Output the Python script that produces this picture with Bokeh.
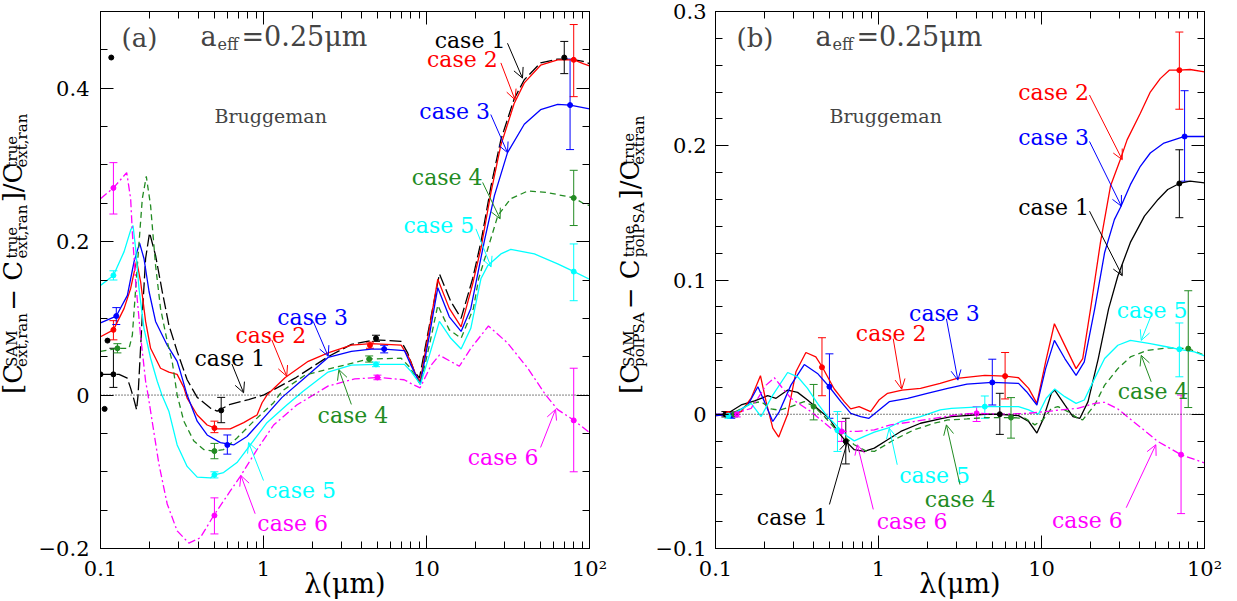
import math
from bokeh.plotting import figure
from bokeh.models import (FixedTicker, LogAxis, LinearAxis, Label, Arrow, OpenHead,
                          Whisker, TeeHead, ColumnDataSource, Span, CustomJSTickFormatter)
from bokeh.core.properties import value
from bokeh.layouts import row
from bokeh.embed import file_html
from bokeh.resources import INLINE

FONT = "DejaVu Serif"
BLACK, RED, BLUE, GREEN, CYAN, MAGENTA = "#000000", "#ff0000", "#0000ff", "#228b22", "#00ffff", "#ff00ff"

# ---------------- panel (a) data ----------------
A1_LAM = [0.1, 0.13, 0.146, 0.153, 0.160, 0.1665, 0.170, 0.1722, 0.1805, 0.1891, 0.200, 0.2177, 0.2392,
          0.2626, 0.2953, 0.340, 0.392, 0.472, 0.52, 0.625, 0.81, 1.0, 1.56, 2.49, 3.46, 4.8, 6.99, 7.66,
          8.42, 9.05, 10.42, 12.0, 14.1, 16.3, 19.2, 21.6, 24.9, 28.6, 34.5, 39.8, 50.1, 63.8, 76.8, 91.4, 100]
A1_VAL = [0.027, 0.027, 0.022, 0.009, -0.005, -0.019, 0.0, 0.022, 0.104, 0.178, 0.2115, 0.182, 0.135,
          0.0915, 0.057, 0.02, -0.003, -0.017, -0.021, -0.012, -0.006, 0.0, 0.022, 0.05, 0.066, 0.072, 0.070,
          0.055, 0.031, 0.022, 0.091, 0.158, 0.122, 0.1, 0.152, 0.2, 0.273, 0.333, 0.386, 0.411, 0.433,
          0.438, 0.438, 0.435, 0.432]
A2_LAM = [0.1, 0.12, 0.1396, 0.1531, 0.1665, 0.1762, 0.1891, 0.2029, 0.2335, 0.2626, 0.2953, 0.3244, 0.34,
          0.392, 0.451, 0.519, 0.625, 0.756, 0.913, 0.98, 1.05, 1.36, 1.88, 2.49, 3.46, 4.58, 6.99, 7.84,
          8.62, 9.14, 10.42, 11.73, 13.8, 16.3, 19.2, 21.6, 24.9, 28.6, 34.5, 39.8, 50.1, 63.8, 80.4, 91.4, 100]
A2_VAL = [0.076, 0.085, 0.113, 0.139, 0.175, 0.148, 0.096, 0.061, 0.035, 0.030, 0.027, 0.010, -0.004,
          -0.026, -0.039, -0.044, -0.044, -0.036, -0.026, -0.01, 0.0, 0.023, 0.044, 0.055, 0.065, 0.067,
          0.065, 0.048, 0.026, 0.018, 0.087, 0.151, 0.113, 0.089, 0.145, 0.192, 0.265, 0.326, 0.380, 0.407,
          0.430, 0.437, 0.437, 0.432, 0.429]
A3_LAM = [0.1, 0.125, 0.1462, 0.1606, 0.1737, 0.1848, 0.1985, 0.2177, 0.2566, 0.2953, 0.3093, 0.34, 0.392,
          0.451, 0.5435, 0.656, 0.792, 1.0, 1.3, 1.78, 2.49, 3.46, 4.58, 5.5, 7.32, 8.03, 9.14, 10.42, 11.73,
          13.8, 16.3, 18.7, 22.6, 26.1, 31.4, 39.8, 50.1, 63.8, 76.1, 100]
A3_VAL = [0.094, 0.103, 0.13, 0.174, 0.198, 0.178, 0.135, 0.096, 0.065, 0.044, 0.03, 0.0, -0.034, -0.052,
          -0.062, -0.065, -0.054, -0.03, -0.003, 0.022, 0.049, 0.057, 0.06, 0.06, 0.058, 0.039, 0.014, 0.078,
          0.14, 0.102, 0.083, 0.113, 0.2, 0.26, 0.316, 0.353, 0.372, 0.379, 0.378, 0.373]
A4_LAM = [0.1, 0.127, 0.1497, 0.1568, 0.1683, 0.1805, 0.191, 0.2029, 0.2177, 0.2335, 0.2566, 0.2752, 0.2953,
          0.3244, 0.3741, 0.4298, 0.4951, 0.5693, 0.6875, 0.8712, 1.154, 1.296, 1.797, 2.869, 4.37, 6.99,
          7.84, 9.18, 10.42, 11.73, 13.8, 16.3, 19.4, 20.9, 23.8, 27.4, 32.9, 41.8, 55.2, 80.4, 91.4, 100]
A4_VAL = [0.057, 0.061, 0.061, 0.078, 0.169, 0.256, 0.285, 0.247, 0.169, 0.113, 0.07, 0.044, 0.0, -0.034,
          -0.06, -0.071, -0.073, -0.071, -0.056, -0.034, -0.01, 0.005, 0.026, 0.037, 0.047, 0.048, 0.037,
          0.014, 0.065, 0.117, 0.085, 0.074, 0.113, 0.152, 0.191, 0.234, 0.256, 0.266, 0.264, 0.257, 0.250, 0.247]
A5_LAM = [0.1, 0.12, 0.1396, 0.1531, 0.1583, 0.1643, 0.1722, 0.1848, 0.2029, 0.2229, 0.2392, 0.2626, 0.2953,
          0.34, 0.392, 0.472, 0.5, 0.569, 0.6875, 0.83, 1.05, 1.39, 1.75, 2.49, 3.46, 4.9, 7.32, 8.03, 9.18,
          10.42, 12.0, 14.1, 16.3, 18.7, 21.6, 23.8, 28.6, 32.9, 45.9, 63.8, 80.4, 100]
A5_VAL = [0.143, 0.156, 0.187, 0.215, 0.221, 0.191, 0.139, 0.087, 0.048, 0.018, -0.001, -0.021, -0.065,
          -0.093, -0.107, -0.108, -0.104, -0.101, -0.088, -0.065, -0.036, -0.013, 0.005, 0.03, 0.039, 0.04,
          0.04, 0.031, 0.014, 0.052, 0.096, 0.074, 0.06, 0.087, 0.152, 0.169, 0.184, 0.19, 0.184, 0.171,
          0.161, 0.151]
A6_LAM = [0.1, 0.12, 0.1448, 0.1531, 0.157, 0.1643, 0.176, 0.1891, 0.1958, 0.2029, 0.2282, 0.2566, 0.2953,
          0.3481, 0.4094, 0.4951, 0.6254, 0.7207, 0.9128, 1.154, 1.6, 2.5, 3.63, 5.0, 7.29, 8.38, 9.14,
          10.67, 12.0, 15.9, 18.7, 24.0, 31.4, 41.8, 53.9, 63.8, 80.4, 100]
A6_VAL = [0.256, 0.27, 0.29, 0.256, 0.21, 0.148, 0.078, 0.018, 0.0, -0.021, -0.09, -0.142, -0.177, -0.193,
          -0.186, -0.157, -0.125, -0.106, -0.071, -0.039, -0.013, 0.012, 0.021, 0.023, 0.02, 0.013, 0.0095,
          0.039, 0.052, 0.0376, 0.061, 0.09, 0.068, 0.035, 0.0, -0.019, -0.033, -0.049]

# error bars (a): wavelength, value, lower, upper
A1_ERR_LAM, A1_ERR_VAL, A1_ERR_LO, A1_ERR_HI = [0.12, 0.55, 4.9, 70], [0.027, -0.02, 0.074, 0.44], [0.010, -0.036, 0.070, 0.419], [0.061, -0.003, 0.078, 0.461]
A2_ERR_LAM, A2_ERR_VAL, A2_ERR_LO, A2_ERR_HI = [0.12, 0.5, 4.5, 80], [0.085, -0.043, 0.065, 0.437], [0.072, -0.049, 0.061, 0.389], [0.097, -0.034, 0.069, 0.483]
A3_ERR_LAM, A3_ERR_VAL, A3_ERR_LO, A3_ERR_HI = [0.125, 0.6, 5.5, 76], [0.103, -0.065, 0.06, 0.378], [0.092, -0.077, 0.055, 0.32], [0.114, -0.052, 0.065, 0.438]
A4_ERR_LAM, A4_ERR_VAL, A4_ERR_LO, A4_ERR_HI = [0.127, 0.5, 4.45, 80], [0.061, -0.073, 0.047, 0.257], [0.055, -0.083, 0.043, 0.221], [0.067, -0.063, 0.051, 0.293]
A5_ERR_LAM, A5_ERR_VAL, A5_ERR_LO, A5_ERR_HI = [0.12, 0.5, 4.9, 80], [0.156, -0.104, 0.04, 0.161], [0.150, -0.108, 0.037, 0.123], [0.162, -0.100, 0.043, 0.197]
A6_ERR_LAM, A6_ERR_VAL, A6_ERR_LO, A6_ERR_HI = [0.12, 0.5, 5.0, 80], [0.27, -0.157, 0.023, -0.033], [0.236, -0.181, 0.02, -0.1], [0.303, -0.134, 0.026, 0.035]
A_DOTS_LAM = [0.1164, 0.1104, 0.1, 0.106]
A_DOTS_VAL = [0.44, 0.071, 0.027, -0.018]

# ---------------- panel (b) data ----------------
B1_LAM = [0.1, 0.1192, 0.1437, 0.1736, 0.209, 0.2352, 0.2771, 0.319, 0.367, 0.4431, 0.4985, 0.5604, 0.6308,
          0.7101, 0.8182, 0.9427, 1.137, 1.37, 1.81, 2.39, 2.80, 4.49, 5.55, 7.23, 8.34, 9.37, 10.2, 11.5,
          12.05, 13.9, 15.6, 17.2, 19.3, 22.3, 25.8, 29.4, 35.1, 42.8, 51.9, 59.5, 70.1, 81.5, 100]
B1_VAL = [-0.001, 0.0007, 0.0069, 0.0099, 0.0138, 0.0119, 0.018, 0.0163, 0.0106, 0.002, -0.003, -0.0128,
          -0.0202, -0.0264, -0.0277, -0.0252, -0.019, -0.0128, -0.0067, -0.0035, -0.0017, 0.0, 0.0, -0.001,
          -0.0054, -0.014, -0.004, 0.0156, 0.018, 0.0069, -0.0017, -0.003, 0.0094, 0.0415, 0.0785, 0.103,
          0.128, 0.1476, 0.16, 0.1674, 0.1719, 0.1736, 0.1724]
B2_LAM = [0.1, 0.128, 0.1437, 0.1654, 0.1887, 0.2043, 0.2246, 0.2443, 0.2771, 0.3115, 0.3586, 0.4125, 0.4529,
          0.5341, 0.6157, 0.6757, 0.7603, 0.8946, 1.006, 1.137, 1.396, 1.81, 2.39, 3.03, 4.49, 5.98, 7.23,
          8.34, 9.37, 10.6, 12.0, 13.9, 16.3, 17.9, 20.0, 23.0, 26.5, 30.5, 33.5, 40.4, 46.5, 53.5, 60.8,
          70.1, 81.5, 100]
B2_VAL = [-0.001, 0.0, 0.002, 0.012, 0.0287, 0.0094, -0.0104, -0.017, 0.0, 0.0316, 0.046, 0.0427, 0.035,
          0.019, 0.0094, 0.004, 0.0057, 0.002, 0.0106, 0.0156, 0.018, 0.0193, 0.023, 0.0267, 0.029, 0.0284,
          0.0272, 0.0193, 0.0081, 0.039, 0.0674, 0.0513, 0.034, 0.0415, 0.0785, 0.128, 0.17, 0.19, 0.2044,
          0.2242, 0.24, 0.25, 0.2563, 0.2563, 0.2568, 0.255]
B3_LAM = [0.1, 0.128, 0.158, 0.182, 0.1997, 0.2246, 0.2464, 0.2902, 0.3504, 0.4223, 0.4985, 0.5877, 0.6757,
          0.777, 0.8742, 0.9826, 1.164, 1.51, 1.99, 2.66, 3.49, 4.99, 7.23, 8.1, 9.37, 10.6, 12.0, 13.9,
          16.3, 18.3, 21.2, 24.4, 28.0, 30.5, 35.1, 40.4, 46.5, 56.4, 75.5, 100]
B3_VAL = [-0.001, 0.0, 0.0069, 0.0205, 0.0094, -0.0054, 0.002, 0.0217, 0.037, 0.0304, 0.0205, 0.0094,
          0.0007, -0.0017, -0.003, 0.002, 0.0094, 0.0119, 0.0156, 0.0193, 0.0225, 0.0237, 0.023, 0.0168,
          0.0069, 0.034, 0.055, 0.0415, 0.029, 0.039, 0.0785, 0.1205, 0.145, 0.154, 0.171, 0.1847, 0.1946,
          0.202, 0.2069, 0.2069]
B4_LAM = [0.1, 0.128, 0.1654, 0.1905, 0.2192, 0.2464, 0.2902, 0.3504, 0.4033, 0.4661, 0.5604, 0.7101, 0.8345,
          0.9427, 1.25, 1.65, 2.2, 2.66, 3.49, 4.49, 6.5, 7.94, 9.1, 10.2, 11.5, 12.6, 14.5, 16.7, 17.9,
          21.2, 24.4, 29.4, 35.1, 44.4, 59.5, 79.5, 100]
B4_VAL = [0.0, 0.001, 0.0081, 0.0094, 0.004, 0.003, 0.0057, 0.0094, 0.0057, -0.0017, -0.0128, -0.0227,
          -0.0272, -0.0277, -0.019, -0.0116, -0.0067, -0.0042, -0.0035, -0.0025, -0.0025, -0.003, -0.0079,
          -0.0042, 0.0044, 0.0057, 0.002, -0.003, -0.0042, 0.0069, 0.0217, 0.034, 0.0427, 0.0476, 0.0494,
          0.0489, 0.044]
B5_LAM = [0.1, 0.128, 0.1654, 0.1905, 0.2246, 0.2771, 0.319, 0.367, 0.4223, 0.4862, 0.5467, 0.6445, 0.7101,
          0.8182, 0.9427, 1.137, 1.37, 1.81, 2.39, 2.8, 4.49, 7.23, 8.34, 9.56, 10.7, 12.05, 13.9, 16.3,
          18.3, 21.2, 24.4, 29.4, 35.1, 46.5, 59.5, 70.1, 86.7, 100]
B5_VAL = [0.0, 0.0, 0.0081, -0.0017, 0.0143, 0.0311, 0.0279, 0.0193, 0.0081, -0.0017, -0.0079, -0.0165,
          -0.0198, -0.0165, -0.0133, -0.0104, -0.0054, -0.0017, 0.0032, 0.0044, 0.0057, 0.0057, 0.0032, 0.0,
          0.0119, 0.0188, 0.0131, 0.0081, 0.0106, 0.0267, 0.0415, 0.0514, 0.055, 0.0526, 0.0501, 0.0484,
          0.0464, 0.0435]
B6_LAM = [0.1, 0.128, 0.1654, 0.182, 0.2043, 0.2297, 0.2581, 0.2902, 0.3344, 0.3848, 0.4431, 0.5099, 0.5955,
          0.7441, 0.9427, 1.186, 1.65, 2.2, 3.18, 4.0, 5.69, 8.34, 10.6, 13.1, 16.7, 21.2, 24.4, 29.4, 33.5,
          41.2, 51.6, 71.8, 100]
B6_VAL = [0.0, 0.0, 0.0044, 0.0119, 0.0217, 0.0272, 0.0193, 0.0119, 0.0069, 0.002, -0.0042, -0.0104,
          -0.0128, -0.0128, -0.0116, -0.0079, -0.0054, -0.003, 0.0, 0.0007, 0.0, 0.0007, 0.002, 0.0032,
          0.0044, 0.0081, 0.0089, 0.004, -0.0017, -0.0104, -0.0202, -0.0301, -0.0363]

B1_ERR_LAM, B1_ERR_VAL, B1_ERR_LO, B1_ERR_HI = [0.115, 0.63, 5.55, 70.1], [0.0, -0.0202, 0.0, 0.1719], [-0.002, -0.037, -0.015, 0.1464], [0.002, -0.003, 0.0156, 0.197]
B2_ERR_LAM, B2_ERR_VAL, B2_ERR_LO, B2_ERR_HI = [0.12, 0.45, 5.98, 70.1], [0.0, 0.035, 0.0284, 0.2563], [-0.002, 0.0138, 0.0114, 0.2272], [0.002, 0.057, 0.046, 0.2847]
B3_ERR_LAM, B3_ERR_VAL, B3_ERR_LO, B3_ERR_HI = [0.125, 0.5, 4.99, 75.5], [-0.001, 0.0205, 0.0237, 0.2069], [-0.003, -0.003, 0.0069, 0.1736], [0.001, 0.045, 0.041, 0.241]
B4_ERR_LAM, B4_ERR_VAL, B4_ERR_LO, B4_ERR_HI = [0.13, 0.40, 6.5, 79.5], [0.0, 0.0057, -0.0025, 0.0489], [-0.002, -0.0042, -0.0178, 0.005], [0.002, 0.0222, 0.0124, 0.092]
B5_ERR_LAM, B5_ERR_VAL, B5_ERR_LO, B5_ERR_HI = [0.12, 0.56, 4.49, 70.1], [-0.001, -0.012, 0.0057, 0.0484], [-0.003, -0.0277, -0.003, 0.0279], [0.001, 0.002, 0.0136, 0.068]
B6_ERR_LAM, B6_ERR_VAL, B6_ERR_LO, B6_ERR_HI = [0.135, 0.595, 4.0, 71.8], [0.0, -0.0128, 0.0007, -0.0301], [-0.002, -0.0202, -0.0054, -0.074], [0.002, -0.0054, 0.0057, 0.0143]

X_TICKS = [0.1, 1, 10, 100]
X_TICK_LABELS = ["0.1", "1", "10", "10\u00b2"]
A_Y_TICKS = [-0.2, 0, 0.2, 0.4]
A_Y_TICK_LABELS = ["\u22120.2", "0", "0.2", "0.4"]
B_Y_TICKS = [-0.1, 0, 0.1, 0.2, 0.3]
B_Y_TICK_LABELS = ["\u22120.1", "0", "0.1", "0.2", "0.3"]

# annotation specs: text, color, label (lam, val), arrow start (lam, val), arrow end (lam, val)
A_NOTES = [
    ("case 1", BLACK, 18.5, 0.4563, 31.4, 0.4586, 38.8, 0.4132),
    ("case 2", RED, 16.6, 0.4304, 28.6, 0.433, 34.9, 0.385),
    ("case 3", BLUE, 14.9, 0.3631, 24.8, 0.3657, 31.4, 0.316),
    ("case 4", GREEN, 13.4, 0.2776, 22.1, 0.2772, 28.3, 0.2297),
    ("case 5", CYAN, 11.9, 0.2141, 20.1, 0.2167, 24.9, 0.167),
    ("case 6", MAGENTA, 29.5, -0.0877, 50.1, -0.0683, 61.9, -0.0187),
    ("case 1", BLACK, 0.622, 0.0418, 0.640, 0.0405, 0.7547, 0.003),
    ("case 2", RED, 1.108, 0.0717, 1.124, 0.072, 1.388, 0.0246),
    ("case 3", BLUE, 2.0, 0.0949, 2.02, 0.0959, 2.495, 0.0505),
    ("case 4", GREEN, 3.54, -0.0333, 3.46, -0.0122, 2.90, 0.0332),
    ("case 5", CYAN, 1.69, -0.1304, 1.0, -0.1114, 0.81, -0.0618),
    ("case 6", MAGENTA, 1.51, -0.1745, 0.889, -0.1547, 0.727, -0.1049),
]
B_NOTES = [
    ("case 2", RED, 11.86, 0.2363, 19.7, 0.2378, 31.3, 0.1896),
    ("case 3", BLUE, 11.86, 0.2022, 19.7, 0.2032, 30.9, 0.155),
    ("case 1", BLACK, 11.86, 0.1504, 19.7, 0.1513, 31.3, 0.1032),
    ("case 5", CYAN, 47.7, 0.0733, 47.1, 0.0736, 40.9, 0.055),
    ("case 4", GREEN, 48.4, 0.0133, 47.1, 0.0242, 40.9, 0.0439),
    ("case 3", BLUE, 2.54, 0.0711, 2.61, 0.0711, 3.07, 0.0254),
    ("case 2", RED, 1.197, 0.0563, 1.231, 0.0563, 1.388, 0.0187),
    ("case 5", CYAN, 2.21, -0.0496, 1.303, -0.0376, 1.164, -0.0104),
    ("case 4", GREEN, 3.17, -0.0674, 3.16, -0.0524, 2.61, -0.0079),
    ("case 1", BLACK, 0.2954, -0.0807, 0.5, -0.0672, 0.645, -0.0202),
    ("case 6", MAGENTA, 1.609, -0.0837, 0.929, -0.0709, 0.742, -0.0227),
    ("case 6", MAGENTA, 19.1, -0.083, 33.1, -0.0696, 50.3, -0.0227),
]

# approximate DejaVu Serif advance widths (em) for laying out the rotated y label
W = {" ": 0.318, "[": 0.39, "]": 0.39, "/": 0.337, "\u2212": 0.838, "C": 0.733, "S": 0.685, "A": 0.722,
     "M": 0.996, "P": 0.732, "e": 0.592, "x": 0.564, "t": 0.402, ",": 0.318, "r": 0.478, "a": 0.596,
     "n": 0.644, "u": 0.644, "p": 0.64, "o": 0.602, "l": 0.32}

STRIP_W = 35


def tw(s, size):
    return sum(W.get(c, 0.6) for c in s) * size


def ylabel_strip(groups, main_x=12.5, sup_x=11.5, sub_x=21.5, y_start=173, main=26, scr=15, gap=10):
    """A narrow figure (pixel coordinates, y up) holding the rotated multi-part y label."""
    s = figure(width=STRIP_W, height=601, x_range=(0, STRIP_W), y_range=(0, 601), output_backend="svg",
               toolbar_location=None, min_border=0, x_axis_location=None, y_axis_location=None)
    s.grid.visible = False
    s.outline_line_color = None
    s.background_fill_color = "white"
    s.border_fill_color = "white"

    def put(x, y, txt, size):
        s.text(x=[x], y=[y], text=[txt], angle=math.pi / 2, text_font=value(FONT),
               text_font_size=value(f"{size}px"), text_align="left", text_baseline="alphabetic",
               text_color="black")

    pos = y_start
    for g in groups:
        if isinstance(g, str):
            put(main_x, pos, g, main)
            pos += tw(g, main)
        else:
            sup, sub = g
            put(sup_x, pos + 1, sup, scr)
            put(sub_x, pos + 1, sub, scr)
            pos += max(tw(sup, scr), tw(sub, scr)) + gap
    return s


def make_panel(width, left, right, standoff, yr, yticks, yticklabels, yminor, curves, errs, notes, tag):
    p = figure(width=width, height=601, x_axis_type="log", x_range=(0.1, 100), y_range=yr,
               output_backend="svg", toolbar_location=None, min_border_left=left,
               min_border_right=right, min_border_top=11, min_border_bottom=50)
    p.grid.visible = False
    p.outline_line_color = "black"
    p.outline_line_width = 1
    p.background_fill_color = "white"
    p.border_fill_color = "white"

    xminor = [m * d for d in (0.1, 1, 10) for m in range(2, 10)]

    def style(ax, labels):
        ax.axis_line_color = "black"
        ax.major_tick_line_color = "black"
        ax.minor_tick_line_color = "black"
        ax.major_tick_in = 13
        ax.major_tick_out = 0
        ax.minor_tick_in = 7
        ax.minor_tick_out = 0
        if labels:
            ax.major_label_text_font = FONT
            ax.major_label_text_font_size = "21px"
            ax.major_label_text_color = "black"
        else:
            ax.formatter = CustomJSTickFormatter(code="return ''")
            ax.major_label_text_font_size = "0px"

    p.xaxis.ticker = FixedTicker(ticks=X_TICKS, minor_ticks=xminor)
    p.xaxis.major_label_overrides = dict(zip(X_TICKS, X_TICK_LABELS))
    p.xaxis.major_label_standoff = 8
    p.xaxis.axis_label = "\u03bb(\u03bcm)"
    p.xaxis.axis_label_text_font = FONT
    p.xaxis.axis_label_text_font_size = "27px"
    p.xaxis.axis_label_text_font_style = "normal"
    p.xaxis.axis_label_text_color = "black"
    p.xaxis.axis_label_standoff = -16
    style(p.xaxis[0], True)
    p.yaxis.ticker = FixedTicker(ticks=yticks, minor_ticks=yminor)
    p.yaxis.major_label_overrides = dict(zip(yticks, yticklabels))
    p.yaxis.major_label_standoff = standoff
    style(p.yaxis[0], True)

    top = LogAxis(ticker=FixedTicker(ticks=X_TICKS, minor_ticks=xminor))
    style(top, False)
    p.add_layout(top, "above")
    rgt = LinearAxis(ticker=FixedTicker(ticks=yticks, minor_ticks=yminor))
    style(rgt, False)
    p.add_layout(rgt, "right")

    p.add_layout(Span(location=0, dimension="width", line_color="black", line_dash="1 2", line_width=1))

    for lam, val, color, dash in curves:
        p.line(lam, val, line_color=color, line_width=1.3, line_dash=dash)

    for (elam, eval_, elo, ehi), color in errs:
        src = ColumnDataSource(dict(x=elam, lo=elo, hi=ehi))
        p.add_layout(Whisker(source=src, base="x", lower="lo", upper="hi", dimension="height",
                             line_color=color, line_width=1,
                             upper_head=TeeHead(size=8, line_color=color, line_width=1),
                             lower_head=TeeHead(size=8, line_color=color, line_width=1)))
        p.scatter(elam, eval_, size=5, color=color)

    for text, color, lx, ly, x0, y0, x1, y1 in notes:
        p.add_layout(Label(x=lx, y=ly, y_offset=5, text=text, text_color=color, text_font=FONT,
                           text_font_size="22px", text_align="center", text_baseline="alphabetic"))
        p.add_layout(Arrow(x_start=x0, y_start=y0, x_end=x1, y_end=y1, line_color=color, line_width=1,
                           end=OpenHead(size=10, line_color=color, line_width=1)))

    # panel titles (screen units, relative to the frame's bottom-left)
    p.add_layout(Label(x=21, y=511, x_units="screen", y_units="screen", text=tag, text_font=FONT,
                       text_font_size="26px", text_baseline="alphabetic"))
    p.add_layout(Label(x=100, y=512, x_units="screen", y_units="screen", text="a", text_font=FONT,
                       text_font_size="27px", text_baseline="alphabetic"))
    p.add_layout(Label(x=117, y=504, x_units="screen", y_units="screen", text="eff", text_font=FONT,
                       text_font_size="16px", text_baseline="alphabetic"))
    p.add_layout(Label(x=141, y=512, x_units="screen", y_units="screen", text="=0.25\u03bcm", text_font=FONT,
                       text_font_size="27px", text_baseline="alphabetic"))
    p.add_layout(Label(x=114, y=433, x_units="screen", y_units="screen", text="Bruggeman", text_font=FONT,
                       text_font_size="19px", text_baseline="alphabetic"))
    return p


A_MINOR = [round(-0.2 + 0.05 * i, 3) for i in range(15)]
B_MINOR = [round(-0.1 + 0.02 * i, 3) for i in range(21)]

ya = ylabel_strip(["[C", ("SAM", "ext,ran"), " \u2212 C", ("true", "ext,ran"), "]/C", ("true", "ext,ran")])
pa = make_panel(
    617 - STRIP_W, 98 - STRIP_W, 28, 11, (-0.2, 0.5), A_Y_TICKS, A_Y_TICK_LABELS, A_MINOR,
    [(A1_LAM, A1_VAL, BLACK, "12 4"), (A2_LAM, A2_VAL, RED, "solid"), (A3_LAM, A3_VAL, BLUE, "solid"),
     (A4_LAM, A4_VAL, GREEN, "6 4"), (A5_LAM, A5_VAL, CYAN, "solid"), (A6_LAM, A6_VAL, MAGENTA, "8 3 2 3")],
    [((A1_ERR_LAM, A1_ERR_VAL, A1_ERR_LO, A1_ERR_HI), BLACK), ((A2_ERR_LAM, A2_ERR_VAL, A2_ERR_LO, A2_ERR_HI), RED),
     ((A3_ERR_LAM, A3_ERR_VAL, A3_ERR_LO, A3_ERR_HI), BLUE), ((A4_ERR_LAM, A4_ERR_VAL, A4_ERR_LO, A4_ERR_HI), GREEN),
     ((A5_ERR_LAM, A5_ERR_VAL, A5_ERR_LO, A5_ERR_HI), CYAN), ((A6_ERR_LAM, A6_ERR_VAL, A6_ERR_LO, A6_ERR_HI), MAGENTA)],
    A_NOTES, "(a)")
pa.scatter(A_DOTS_LAM, A_DOTS_VAL, size=5, color=BLACK)

yb = ylabel_strip(["[C", ("SAM", "polPSA"), " \u2212 C", ("true", "polPSA"), "]/C", ("true", "extran")])
pb = make_panel(
    620 - STRIP_W, 713 - 617 - STRIP_W, 33, 9, (-0.1, 0.3), B_Y_TICKS, B_Y_TICK_LABELS, B_MINOR,
    [(B1_LAM, B1_VAL, BLACK, "solid"), (B2_LAM, B2_VAL, RED, "solid"), (B3_LAM, B3_VAL, BLUE, "solid"),
     (B4_LAM, B4_VAL, GREEN, "6 4"), (B5_LAM, B5_VAL, CYAN, "solid"), (B6_LAM, B6_VAL, MAGENTA, "8 3 2 3")],
    [((B1_ERR_LAM, B1_ERR_VAL, B1_ERR_LO, B1_ERR_HI), BLACK), ((B2_ERR_LAM, B2_ERR_VAL, B2_ERR_LO, B2_ERR_HI), RED),
     ((B3_ERR_LAM, B3_ERR_VAL, B3_ERR_LO, B3_ERR_HI), BLUE), ((B4_ERR_LAM, B4_ERR_VAL, B4_ERR_LO, B4_ERR_HI), GREEN),
     ((B5_ERR_LAM, B5_ERR_VAL, B5_ERR_LO, B5_ERR_HI), CYAN), ((B6_ERR_LAM, B6_ERR_VAL, B6_ERR_LO, B6_ERR_HI), MAGENTA)],
    B_NOTES, "(b)")

layout = row(ya, pa, yb, pb)
open("out.html", "w").write(file_html(layout, INLINE))
